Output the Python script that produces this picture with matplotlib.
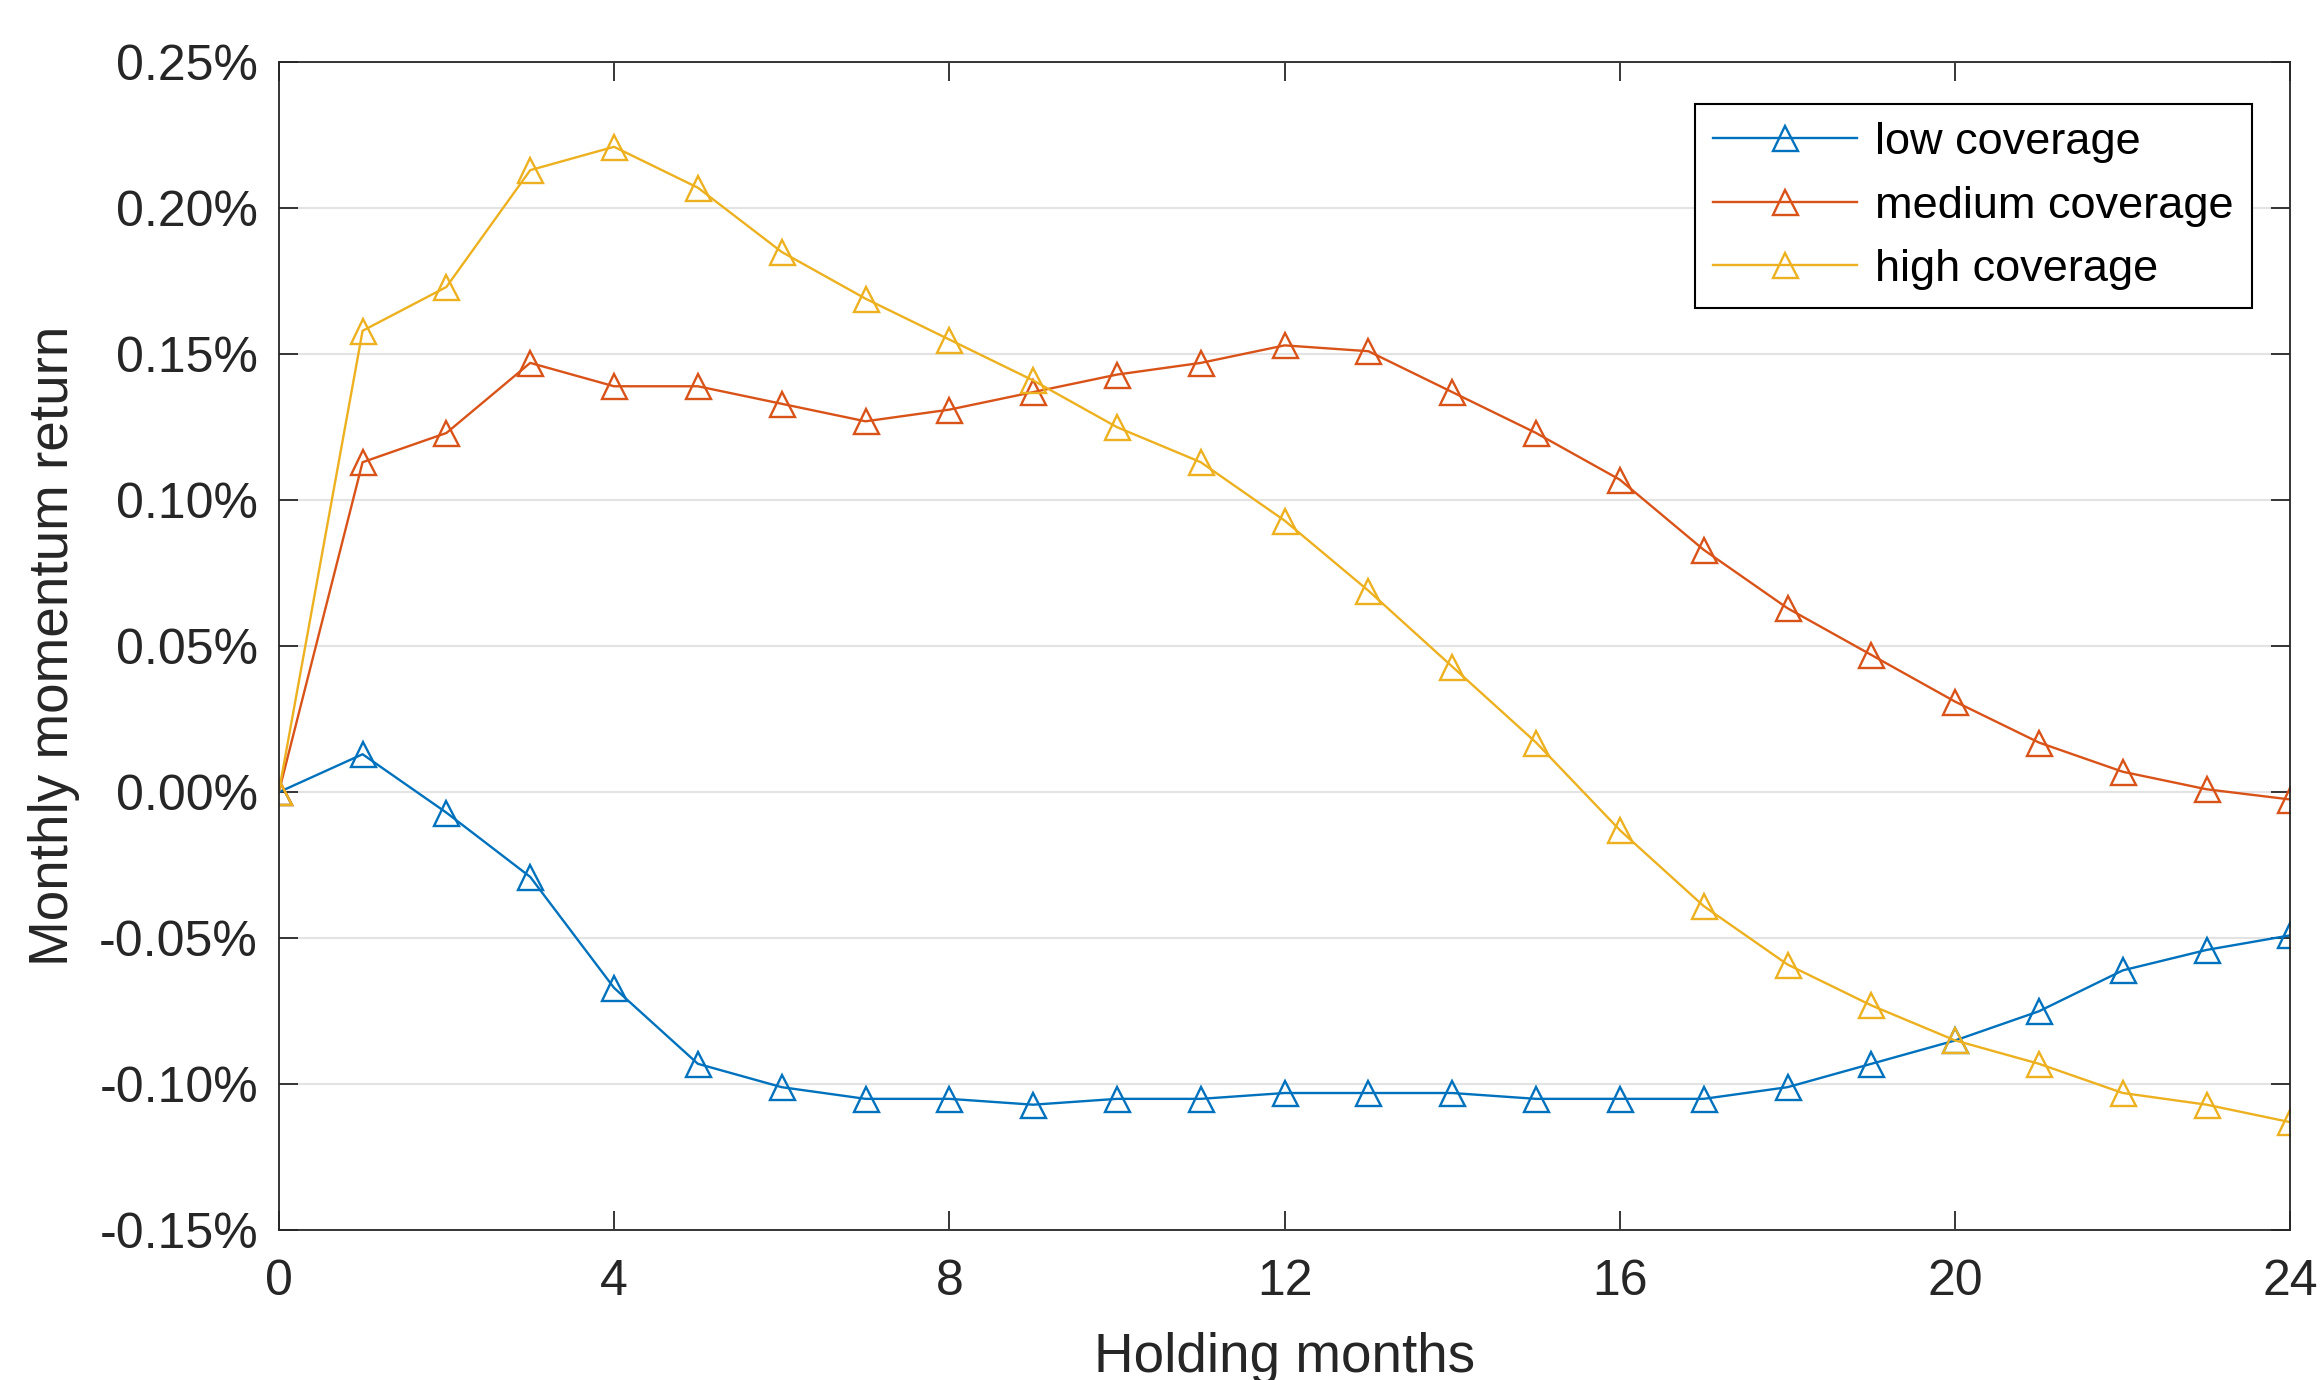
import numpy as np
import matplotlib
matplotlib.use('Agg')
import matplotlib.pyplot as plt
from matplotlib.ticker import FuncFormatter

plt.rcParams['font.family'] = ['Liberation Sans', 'DejaVu Sans']
plt.rcParams['axes.unicode_minus'] = False

# holding months and monthly momentum return (in %)
months = list(range(25))
low_cov = [0.000, 0.013, -0.007, -0.029, -0.067, -0.093, -0.101, -0.105, -0.105,
           -0.107, -0.105, -0.105, -0.103, -0.103, -0.103, -0.105, -0.105, -0.105,
           -0.101, -0.093, -0.085, -0.075, -0.061, -0.054, -0.049]
med_cov = [0.000, 0.113, 0.123, 0.147, 0.139, 0.139, 0.133, 0.127, 0.131,
           0.137, 0.143, 0.147, 0.153, 0.151, 0.137, 0.123, 0.107, 0.083,
           0.063, 0.047, 0.031, 0.017, 0.007, 0.001, -0.0025]
high_cov = [0.000, 0.158, 0.173, 0.213, 0.221, 0.207, 0.185, 0.169, 0.155,
            0.141, 0.125, 0.113, 0.093, 0.069, 0.043, 0.017, -0.013, -0.039,
            -0.059, -0.073, -0.085, -0.093, -0.103, -0.107, -0.113]
series_names = ['low coverage', 'medium coverage', 'high coverage']
colors = ['#0072BD', '#D95319', '#EDB120']
x_ticks = [0, 4, 8, 12, 16, 20, 24]
y_ticks = [-0.15, -0.10, -0.05, 0.00, 0.05, 0.10, 0.15, 0.20, 0.25]

dark = '#262626'
fig = plt.figure(figsize=(23.23, 13.80), dpi=100)
ax = fig.add_axes([0.12, 0.1085, 0.866, 0.8465])

for vals, name, c in zip([low_cov, med_cov, high_cov], series_names, colors):
    ax.plot(months, vals, color=c, lw=1.7, marker='^', markersize=18,
            markerfacecolor='none', markeredgecolor=c, markeredgewidth=1.7,
            label=name)

ax.set_xlim(0, 24)
ax.set_ylim(-0.15, 0.25)
ax.set_xticks(x_ticks)
ax.set_yticks(y_ticks)
ax.yaxis.set_major_formatter(FuncFormatter(lambda v, p: f'{v:.2f}%'))

ax.grid(axis='y', color='#e3e3e3', lw=1.5)
ax.set_axisbelow(True)
ax.tick_params(direction='in', length=14, width=1.3, colors=dark,
               labelsize=36, top=True, right=True)
ax.tick_params(axis='x', pad=21)
ax.tick_params(axis='y', pad=15)
for s in ax.spines.values():
    s.set_color(dark)
    s.set_linewidth(1.3)

ax.set_ylabel('Monthly momentum return', fontsize=39.5, color=dark)
ax.yaxis.set_label_coords(-0.099, 0.5)
ax.set_xlabel('Holding months', fontsize=39.5, color=dark, va='top')
ax.xaxis.set_label_coords(0.5, -0.087)

leg = ax.legend(loc='upper right', bbox_to_anchor=(0.9694, 0.9246),
                bbox_transform=fig.transFigure, borderaxespad=0,
                fontsize=32.5, handlelength=3.2, fancybox=False,
                framealpha=1, edgecolor='black', labelspacing=0.5,
                handletextpad=0.4, borderpad=0.4)
leg.get_frame().set_linewidth(1.5)

fig.savefig('out.png', dpi=100)
